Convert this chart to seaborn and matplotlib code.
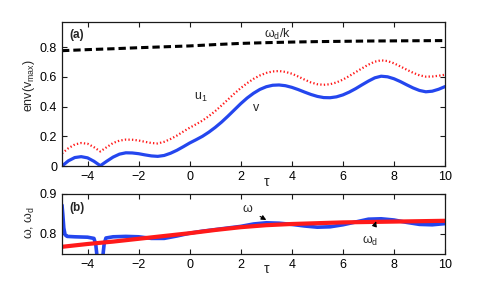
import numpy as np
import pandas as pd
import matplotlib
matplotlib.use("Agg")
import matplotlib.pyplot as plt
import seaborn as sns

# ---------------- data ----------------
tau_v = [-5.0, -4.75, -4.5, -4.25, -4.0, -3.75, -3.5, -3.25, -3.0, -2.75, -2.5, -2.25,
         -2.0, -1.75, -1.5, -1.25, -1.0, -0.75, -0.5, -0.25, 0.0, 0.25, 0.5, 0.75,
         1.0, 1.25, 1.5, 1.75, 2.0, 2.25, 2.5, 2.75, 3.0, 3.25, 3.5, 3.75, 4.0, 4.25,
         4.5, 4.75, 5.0, 5.25, 5.5, 5.75, 6.0, 6.25, 6.5, 6.75, 7.0, 7.25, 7.5, 7.75,
         8.0, 8.25, 8.5, 8.75, 9.0, 9.25, 9.5, 9.75, 10.0]
v_env = [0.000, 0.035, 0.057, 0.063, 0.055, 0.032, 0.002, 0.032, 0.060, 0.080, 0.089, 0.088,
         0.083, 0.075, 0.068, 0.065, 0.071, 0.086, 0.106, 0.130, 0.155, 0.177, 0.200, 0.228,
         0.260, 0.296, 0.336, 0.378, 0.420, 0.458, 0.490, 0.516, 0.534, 0.544, 0.546, 0.541,
         0.530, 0.515, 0.498, 0.482, 0.469, 0.461, 0.460, 0.466, 0.479, 0.498, 0.521, 0.547,
         0.572, 0.594, 0.605, 0.601, 0.588, 0.569, 0.547, 0.526, 0.509, 0.500, 0.504, 0.517, 0.535]
u1_env = [0.085, 0.120, 0.145, 0.155, 0.150, 0.127, 0.098, 0.127, 0.155, 0.171, 0.178, 0.177,
          0.172, 0.163, 0.155, 0.152, 0.163, 0.182, 0.205, 0.232, 0.258, 0.281, 0.306, 0.336,
          0.370, 0.408, 0.448, 0.488, 0.525, 0.558, 0.587, 0.610, 0.627, 0.637, 0.640, 0.634,
          0.622, 0.603, 0.582, 0.563, 0.551, 0.547, 0.551, 0.563, 0.582, 0.606, 0.632, 0.658,
          0.683, 0.703, 0.712, 0.707, 0.692, 0.671, 0.649, 0.628, 0.611, 0.602, 0.603, 0.608, 0.615]

tau_k = [-5, -4, -3, -2, -1, 0, 1, 2, 3, 4, 5, 6, 7, 8, 9, 10]
wd_over_k = [0.777, 0.784, 0.790, 0.797, 0.803, 0.809, 0.818, 0.826, 0.831, 0.835,
             0.838, 0.840, 0.842, 0.843, 0.844, 0.845]
omega_d = [0.768, 0.775, 0.781, 0.788, 0.795, 0.802, 0.810, 0.817, 0.822, 0.825,
           0.827, 0.829, 0.830, 0.831, 0.832, 0.833]

tau_w = [-5.0, -4.97, -4.93, -4.88, -4.8, -4.5, -4.0, -3.75, -3.68, -3.63, -3.5, -3.4,
         -3.35, -3.28, -3.0, -2.5, -2.0, -1.5, -1.0, -0.5, 0.0, 0.5, 1.0, 1.5, 2.0, 2.5,
         3.0, 3.5, 4.0, 4.5, 5.0, 5.5, 6.0, 6.5, 7.0, 7.5, 8.0, 8.5, 9.0, 9.5, 10.0]
omega = [0.872, 0.85, 0.815, 0.798, 0.794, 0.793, 0.792, 0.789, 0.775, 0.745, 0.735, 0.745,
         0.775, 0.79, 0.793, 0.794, 0.793, 0.789, 0.789, 0.795, 0.802, 0.807, 0.811, 0.815,
         0.819, 0.825, 0.828, 0.827, 0.824, 0.82, 0.817, 0.818, 0.823, 0.83, 0.837, 0.838,
         0.835, 0.829, 0.824, 0.823, 0.826]

x_ticks = [-4, -2, 0, 2, 4, 6, 8, 10]
y_ticks_a = [0, 0.2, 0.4, 0.6, 0.8]
y_ticks_b = [0.8, 0.9]

# ---------------- style ----------------
sns.set_theme(style="ticks")
plt.rcParams['font.family'] = ['Liberation Sans', 'DejaVu Sans']
plt.rcParams['mathtext.fontset'] = 'custom'
plt.rcParams['mathtext.rm'] = 'Liberation Sans'
plt.rcParams['mathtext.it'] = 'Liberation Sans:italic'
plt.rcParams['axes.edgecolor'] = '#1a1a1a'
plt.rcParams['axes.linewidth'] = 0.9
plt.rcParams['xtick.direction'] = 'in'
plt.rcParams['ytick.direction'] = 'in'
plt.rcParams['xtick.top'] = True
plt.rcParams['ytick.right'] = True
plt.rcParams['xtick.major.size'] = 3.5
plt.rcParams['ytick.major.size'] = 3.5
plt.rcParams['xtick.major.width'] = 0.8
plt.rcParams['ytick.major.width'] = 0.8
plt.rcParams['xtick.color'] = '#1a1a1a'
plt.rcParams['ytick.color'] = '#1a1a1a'
plt.rcParams['xtick.labelcolor'] = 'black'
plt.rcParams['ytick.labelcolor'] = 'black'

FS = 9
blue = '#2446ee'
red = '#ff1a1a'

fig = plt.figure(figsize=(4.91, 2.82), dpi=100)
ax1 = fig.add_axes([0.1263, 0.4113, 0.780, 0.5106])
ax2 = fig.add_axes([0.1263, 0.0993, 0.780, 0.2128])

df_a = pd.DataFrame({'tau': tau_v, 'v': v_env, 'u1': u1_env})
df_k = pd.DataFrame({'tau': tau_k, 'wk': wd_over_k, 'wd': omega_d})
df_w = pd.DataFrame({'tau': tau_w, 'w': omega})

# panel (a)
sns.lineplot(data=df_k, x='tau', y='wk', ax=ax1, color='black', linewidth=2.2)
ax1.lines[-1].set_dashes([2.4, 1.3])
sns.lineplot(data=df_a, x='tau', y='u1', ax=ax1, color=red, linewidth=1.6)
ax1.lines[-1].set_dashes([0.6, 1.0])
sns.lineplot(data=df_a, x='tau', y='v', ax=ax1, color=blue, linewidth=2.3)

ax1.set_xlim(-5, 10)
ax1.set_ylim(0, 0.97)
ax1.set_xticks(x_ticks)
ax1.set_yticks(y_ticks_a)
ax1.set_xticklabels([f"{t:g}".replace('-', '\u2212') for t in x_ticks], fontsize=FS)
ax1.set_yticklabels([f"{t:g}" for t in y_ticks_a], fontsize=FS)
ax1.set_xlabel('')
ax1.set_ylabel(r'env(v$_\mathrm{max}$)', fontsize=FS)
ax1.yaxis.set_label_coords(-0.065, 0.56)

ax1.text(0.018, 0.955, '(a)', transform=ax1.transAxes, fontsize=8.5,
         fontweight='bold', ha='left', va='top')
ax1.text(3.45, 0.885, r'ω$_\mathrm{d}$/k', fontsize=FS, ha='center', va='center')
ax1.text(0.43, 0.46, r'u$_\mathrm{1}$', fontsize=FS, ha='center', va='center')
ax1.text(2.62, 0.39, 'v', fontsize=FS, ha='center', va='center')

# panel (b)
sns.lineplot(data=df_w, x='tau', y='w', ax=ax2, color=blue, linewidth=2.6)
sns.lineplot(data=df_k, x='tau', y='wd', ax=ax2, color=red, linewidth=3.0)

ax2.set_xlim(-5, 10)
ax2.set_ylim(0.75, 0.9)
ax2.set_xticks(x_ticks)
ax2.set_yticks(y_ticks_b)
ax2.set_xticklabels([f"{t:g}".replace('-', '\u2212') for t in x_ticks], fontsize=FS)
ax2.set_yticklabels([f"{t:g}" for t in y_ticks_b], fontsize=FS)
ax2.set_xlabel('')
ax2.set_ylabel(r'ω, ω$_\mathrm{d}$', fontsize=FS)
ax2.yaxis.set_label_coords(-0.065, 0.53)

ax2.text(0.018, 0.86, '(b)', transform=ax2.transAxes, fontsize=8.5,
         fontweight='bold', ha='left', va='top')
ax2.annotate('ω', xy=(3.0, 0.835), xytext=(2.25, 0.8625), fontsize=FS,
             ha='center', va='center',
             arrowprops=dict(arrowstyle='-|>', color='black', lw=0.8,
                             mutation_scale=7, shrinkA=4, shrinkB=0))
ax2.annotate(r'ω$_\mathrm{d}$', xy=(7.3, 0.8315), xytext=(7.05, 0.783), fontsize=FS,
             ha='center', va='center',
             arrowprops=dict(arrowstyle='-|>', color='black', lw=0.8,
                             mutation_scale=7, shrinkA=6, shrinkB=0))

fig.text(267 / 491, 1 - 182 / 282, 'τ', fontsize=10, ha='center', va='center')
fig.text(267 / 491, 1 - 269 / 282, 'τ', fontsize=10, ha='center', va='center')

fig.savefig('out.png', dpi=100)
